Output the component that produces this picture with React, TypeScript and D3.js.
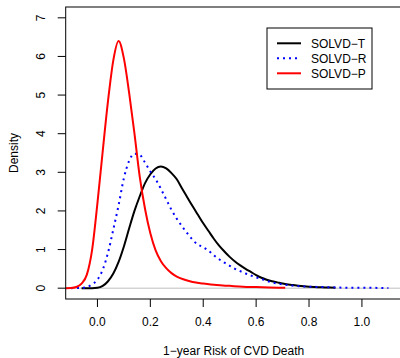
import * as d3 from "d3"

// density estimates, per series
const tX = [-0.06, -0.02, 0.0, 0.02, 0.04, 0.06, 0.08, 0.1, 0.12, 0.14, 0.16, 0.18, 0.2, 0.22, 0.24, 0.26, 0.28, 0.3, 0.32, 0.34, 0.36, 0.38, 0.4, 0.42, 0.44, 0.46, 0.48, 0.5, 0.52, 0.54, 0.56, 0.58, 0.6, 0.62, 0.64, 0.66, 0.68, 0.7, 0.74, 0.78, 0.82, 0.86, 0.9]
const tY = [0, 0.0, 0.01, 0.06, 0.18, 0.38, 0.68, 1.08, 1.55, 2.0, 2.38, 2.72, 2.95, 3.1, 3.15, 3.1, 2.98, 2.82, 2.58, 2.35, 2.12, 1.9, 1.68, 1.48, 1.28, 1.1, 0.95, 0.81, 0.69, 0.59, 0.5, 0.42, 0.34, 0.27, 0.22, 0.18, 0.15, 0.12, 0.08, 0.05, 0.03, 0.02, 0.01]

const rX = [-0.1, -0.08, -0.06, -0.04, -0.02, 0.0, 0.02, 0.04, 0.06, 0.08, 0.1, 0.12, 0.14, 0.16, 0.18, 0.2, 0.22, 0.24, 0.26, 0.28, 0.3, 0.32, 0.34, 0.36, 0.38, 0.4, 0.42, 0.44, 0.46, 0.48, 0.5, 0.52, 0.54, 0.56, 0.58, 0.6, 0.62, 0.64, 0.66, 0.7, 0.75, 0.8, 0.85, 0.9, 0.95, 1.0, 1.1]
const rY = [0, 0.005, 0.01, 0.03, 0.1, 0.22, 0.48, 0.92, 1.52, 2.15, 2.85, 3.3, 3.48, 3.45, 3.25, 3.02, 2.82, 2.57, 2.3, 2.03, 1.8, 1.6, 1.42, 1.25, 1.13, 1.06, 0.97, 0.85, 0.75, 0.66, 0.58, 0.5, 0.44, 0.38, 0.33, 0.28, 0.24, 0.19, 0.15, 0.1, 0.06, 0.04, 0.03, 0.02, 0.01, 0.01, 0.005]

const pX = [-0.12, -0.1, -0.08, -0.06, -0.04, -0.02, 0.0, 0.02, 0.04, 0.06, 0.08, 0.1, 0.12, 0.14, 0.16, 0.18, 0.2, 0.22, 0.24, 0.26, 0.28, 0.3, 0.33, 0.36, 0.4, 0.45, 0.5, 0.55, 0.6, 0.65, 0.71]
const pY = [0, 0.005, 0.03, 0.12, 0.35, 1.0, 2.2, 3.55, 4.85, 5.9, 6.4, 5.95, 5.05, 4.0, 2.88, 2.05, 1.42, 0.98, 0.7, 0.52, 0.39, 0.3, 0.22, 0.16, 0.12, 0.08, 0.06, 0.04, 0.03, 0.02, 0.01]

const seriesNames = ["SOLVD-T", "SOLVD-R", "SOLVD-P"]
const seriesColors = ["#000000", "#0000ff", "#ff0000"]
const seriesDash = [null, "2,4", null]

const xTicks = [0.0, 0.2, 0.4, 0.6, 0.8, 1.0]
const yTicks = [0, 1, 2, 3, 4, 5, 6, 7]

export default function App() {
  const font = "'Liberation Sans', Arial, sans-serif"
  const x = d3.scaleLinear().domain([-0.12, 1.15]).range([65.7, 401.6])
  const y = d3.scaleLinear().domain([-0.28, 7.28]).range([299, 7])

  const series = [
    { xs: tX, ys: tY },
    { xs: rX, ys: rY },
    { xs: pX, ys: pY },
  ]

  const line = d3
    .line<[number, number]>()
    .x((d) => x(d[0]))
    .y((d) => y(d[1]))
    .curve(d3.curveMonotoneX)

  const [x0, x1] = x.range()
  const [yb, yt] = y.range()

  return (
    <svg
      width={400}
      height={358}
      style={{ position: "fixed", left: 0, top: 0, background: "#fff" }}
      fontFamily={font}
    >
      <rect width={400} height={358} fill="#fff" />
      {/* h = 0 reference */}
      <line x1={x0} x2={x1} y1={y(0)} y2={y(0)} stroke="#bebebe" strokeWidth={1} />

      {series.map((s, i) => (
        <path
          key={i}
          d={line(s.xs.map((v, j) => [v, s.ys[j]] as [number, number])) || ""}
          fill="none"
          stroke={seriesColors[i]}
          strokeWidth={2}
          strokeDasharray={seriesDash[i] || undefined}
        />
      ))}

      {/* box */}
      <rect x={x0} y={yt} width={x1 - x0} height={yb - yt} fill="none" stroke="#000" strokeWidth={1} />

      {/* y axis */}
      {yTicks.map((t) => (
        <g key={t}>
          <line x1={x0 - 8} x2={x0} y1={y(t)} y2={y(t)} stroke="#000" />
          <text
            transform={`translate(45,${y(t)}) rotate(-90)`}
            textAnchor="middle"
            fontSize={12}
          >
            {t}
          </text>
        </g>
      ))}
      <text transform={`translate(18,${(yt + yb) / 2}) rotate(-90)`} textAnchor="middle" fontSize={12}>
        Density
      </text>

      {/* x axis */}
      {xTicks.map((t) => (
        <g key={t}>
          <line x1={x(t)} x2={x(t)} y1={yb} y2={yb + 8} stroke="#000" />
          <text x={x(t)} y={326} textAnchor="middle" fontSize={12}>
            {t.toFixed(1)}
          </text>
        </g>
      ))}
      <text x={(x0 + x1) / 2} y={355} textAnchor="middle" fontSize={12}>
        1−year Risk of CVD Death
      </text>

      {/* legend */}
      <rect x={267} y={28} width={105} height={61} fill="#fff" stroke="#000" strokeWidth={1} />
      {seriesNames.map((n, i) => (
        <g key={n}>
          <line
            x1={277}
            x2={301}
            y1={43.3 + i * 15}
            y2={43.3 + i * 15}
            stroke={seriesColors[i]}
            strokeWidth={2}
            strokeDasharray={seriesDash[i] || undefined}
          />
          <text x={311} y={43.3 + i * 15 + 4.3} fontSize={12}>
            {n.replace("-", "−")}
          </text>
        </g>
      ))}
    </svg>
  )
}
